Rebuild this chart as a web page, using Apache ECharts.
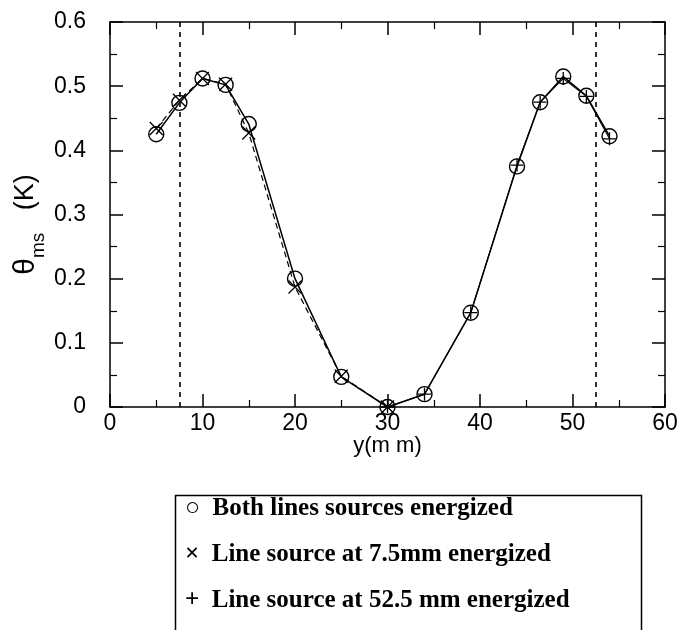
<!DOCTYPE html>
<html>
<head>
<meta charset="utf-8">
<script src="https://cdn.jsdelivr.net/npm/echarts@6/dist/echarts.min.js"></script>
<style>
  html, body { margin: 0; padding: 0; background: #fff; }
  #chart { width: 682px; height: 630px; }
</style>
</head>
<body>
<div id="chart"></div>
<script>
// Position across the channel (mm)
const bothY     = [5, 7.5, 10, 12.5, 15, 20, 25, 30, 34, 39, 44, 46.5, 49, 51.5, 54];
const bothTheta = [0.425, 0.474, 0.512, 0.502, 0.441, 0.200, 0.047, 0.000, 0.020, 0.147, 0.375, 0.475, 0.515, 0.485, 0.422];

const left75Y     = [5, 7.5, 10, 12.5, 15, 20, 25, 30];
const left75Theta = [0.434, 0.478, 0.512, 0.503, 0.427, 0.187, 0.048, 0.000];

const right525Y     = [30, 34, 39, 44, 46.5, 49, 51.5, 54];
const right525Theta = [0.000, 0.020, 0.147, 0.377, 0.475, 0.512, 0.484, 0.418];

// Line-source positions (mm)
const sourcePositions = [7.5, 52.5];

const xTicks = { min: 0, max: 60, interval: 10 };
const yTicks = { min: 0, max: 0.6, interval: 0.1 };

const legendLabels = [
  '\u25CB  Both lines sources energized',
  '\u00D7  Line source at 7.5mm energized',
  '+  Line source at 52.5 mm energized'
];

const zip = (xs, ys) => xs.map((x, i) => [x, ys[i]]);

const chart = echarts.init(document.getElementById('chart'), null, { renderer: 'canvas' });

const sans = 'Liberation Sans, Arial, sans-serif';
const tickFont = { fontFamily: sans, fontSize: 23, color: '#000' };

function axisBase(show) {
  return {
    axisLine: { show: true, onZero: false, lineStyle: { color: '#000', width: 1.5 } },
    axisTick: { show: true, inside: true, length: 13, lineStyle: { color: '#000', width: 1.5 } },
    minorTick: { show: true, splitNumber: 2, length: 7, lineStyle: { color: '#000', width: 1.2 } },
    splitLine: { show: false },
    axisLabel: show ? Object.assign({ margin: 5 }, tickFont) : { show: false }
  };
}

const crossPath = 'path://M0,0L10,10M10,0L0,10';
const plusPath = 'path://M5,0L5,10M0,5L10,5';

const yLeft = axisBase(true);
yLeft.axisLabel = Object.assign({ margin: 24, formatter: v => (v === 0 ? '0' : v.toFixed(1)) }, tickFont);

const option = {
  animation: false,
  backgroundColor: '#fff',
  grid: { left: 110, right: 17, top: 22, bottom: 223, containLabel: false, outerBoundsMode: 'none' },
  xAxis: [
    Object.assign({
      type: 'value', position: 'bottom',
      min: xTicks.min, max: xTicks.max, interval: xTicks.interval,
      name: 'y(m m)', nameLocation: 'middle', nameGap: 28, nameMoveOverlap: false,
      nameTextStyle: { fontFamily: sans, fontSize: 22, color: '#000', verticalAlign: 'top' }
    }, axisBase(true)),
    Object.assign({
      type: 'value', position: 'top',
      min: xTicks.min, max: xTicks.max, interval: xTicks.interval
    }, axisBase(false))
  ],
  yAxis: [
    Object.assign({
      type: 'value', position: 'left',
      min: yTicks.min, max: yTicks.max, interval: yTicks.interval,
      name: '{t|\u03B8}{s|ms}{k|   (K)}', nameLocation: 'middle', nameGap: 62, nameRotate: 90,
      nameMoveOverlap: false,
      nameTextStyle: {
        padding: [0, 20, 0, 0],
        rich: {
          t: { fontFamily: sans, fontSize: 30, color: '#000', lineHeight: 44, verticalAlign: 'middle' },
          s: { fontFamily: sans, fontSize: 19, color: '#000', lineHeight: 44, verticalAlign: 'bottom' },
          k: { fontFamily: sans, fontSize: 27, color: '#000', lineHeight: 44, verticalAlign: 'middle' }
        }
      }
    }, yLeft),
    Object.assign({
      type: 'value', position: 'right',
      min: yTicks.min, max: yTicks.max, interval: yTicks.interval
    }, axisBase(false))
  ],
  series: [
    {
      name: 'Line source at 7.5mm energized',
      type: 'line',
      data: zip(left75Y, left75Theta),
      symbol: crossPath, symbolSize: 13,
      itemStyle: { color: 'rgba(0,0,0,0)', borderColor: '#000', borderWidth: 1.3 },
      lineStyle: { color: '#000', width: 1.2, type: [6, 4] },
      z: 2,
      markLine: {
        silent: true, symbol: 'none', label: { show: false },
        lineStyle: { color: '#000', width: 1.6, type: [5, 5] },
        data: sourcePositions.map(p => ({ xAxis: p }))
      }
    },
    {
      name: 'Line source at 52.5 mm energized',
      type: 'line',
      data: zip(right525Y, right525Theta),
      symbol: plusPath, symbolSize: 13,
      itemStyle: { color: 'rgba(0,0,0,0)', borderColor: '#000', borderWidth: 1.3 },
      lineStyle: { color: '#000', width: 1.1 },
      z: 3
    },
    {
      name: 'Both lines sources energized',
      type: 'line',
      data: zip(bothY, bothTheta),
      symbol: 'circle', symbolSize: 15,
      itemStyle: { color: 'rgba(0,0,0,0)', borderColor: '#000', borderWidth: 1.4 },
      lineStyle: { color: '#000', width: 1.5 },
      z: 4
    }
  ],
  graphic: [
    {
      type: 'rect', left: 173, top: 493, silent: true,
      shape: { width: 466, height: 160 },
      style: { fill: 'none', stroke: '#000', lineWidth: 1.5 }
    }
  ].concat(legendLabels.map((txt, i) => ({
    type: 'text', left: 185, top: 496 + i * 46, silent: true,
    style: {
      text: txt,
      font: 'bold 25px "Liberation Serif", "Times New Roman", serif',
      fill: '#000'
    }
  })))
};

chart.setOption(option);
</script>
</body>
</html>
